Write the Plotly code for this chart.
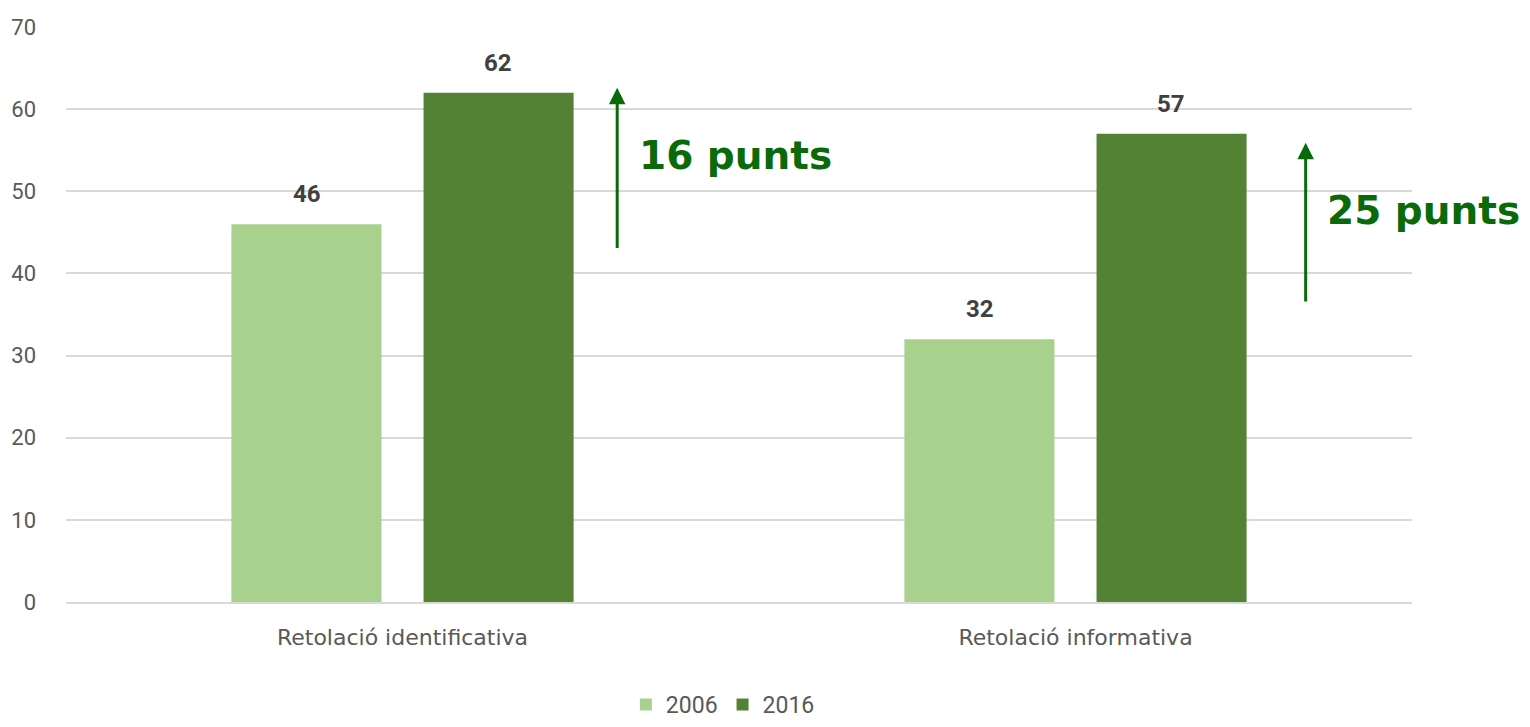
import plotly.graph_objects as go

categories = ["Retolació identificativa", "Retolació informativa"]
series_names = ["2006", "2016"]
values_2006 = [46, 32]
values_2016 = [62, 57]
colors = ["#A9D18E", "#548235"]
gain_labels = ["16 punts", "25 punts"]

fig = go.Figure()
for name, vals, col in zip(series_names, [values_2006, values_2016], colors):
    fig.add_trace(go.Bar(
        x=categories, y=vals, name=name, marker=dict(color=col, line=dict(width=0)),
    ))

# data labels
for i, (v06, v16) in enumerate(zip(values_2006, values_2016)):
    for off, v in ((-0.142, v06), (0.142, v16)):
        fig.add_annotation(x=i + off, y=v, xref="x", yref="y", text=f"<b>{v}</b>",
                           showarrow=False, yshift=30,
                           font=dict(family="Roboto, DejaVu Sans", size=24, color="#404040"))

# arrows and gain text
arrow_x = [0.319, 1.342]
arrow_y0 = [42.9, 36.4]
arrow_y1 = [62.6, 55.9]
text_y = [54.4, 47.7]
for i in range(2):
    fig.add_annotation(x=arrow_x[i], y=arrow_y1[i], ax=arrow_x[i], ay=arrow_y0[i],
                       xref="x", yref="y", axref="x", ayref="y", text="",
                       showarrow=True, arrowhead=2, arrowsize=1.1, arrowwidth=3,
                       arrowcolor="#0A6A0A")
    fig.add_annotation(x=arrow_x[i] + 0.029, y=text_y[i], xref="x", yref="y",
                       text=f"<b>{gain_labels[i]}</b>", showarrow=False, xanchor="left",
                       font=dict(family="DejaVu Sans", size=39, color="#0A6A0A"))

fig.update_layout(
    width=1530, height=727,
    margin=dict(l=58, r=126, t=19, b=133),
    paper_bgcolor="white", plot_bgcolor="white",
    barmode="group", bargap=0.429, bargroupgap=0.219,
    font=dict(family="Roboto, DejaVu Sans", color="#595959"),
    legend=dict(orientation="h", x=0.488, xanchor="center", y=0.042, yanchor="middle",
                yref="container", font=dict(size=23, color="#595959"), itemwidth=30),
    showlegend=True,
)
fig.update_yaxes(range=[0, 70], dtick=10, showgrid=True, gridcolor="#D9D9D9", gridwidth=1.5,
                 zeroline=False, showline=False, tickfont=dict(size=22, color="#595959"),
                 ticklabelstandoff=29, automargin=False)
fig.update_xaxes(range=[-0.5, 1.5], autorange=False, showline=True, linecolor="#D9D9D9",
                 linewidth=1.5, automargin=False,
                 tickfont=dict(family="DejaVu Sans", size=22, color="#595959"),
                 ticklabelstandoff=15)

fig.write_html("out.html")
